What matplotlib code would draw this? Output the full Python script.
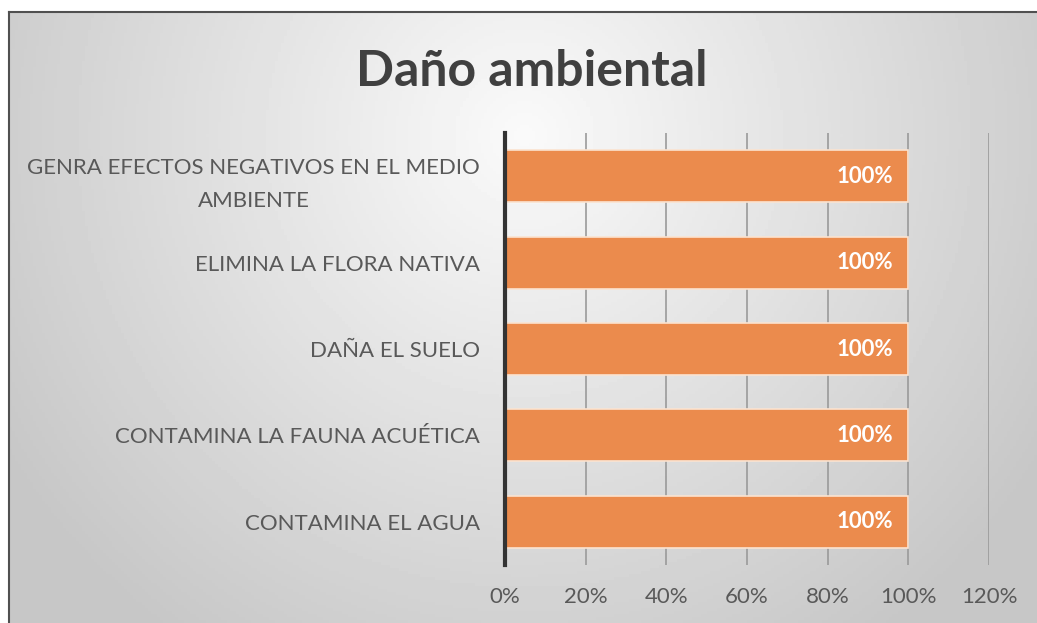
import numpy as np
import matplotlib.pyplot as plt

categories = ["CONTAMINA EL AGUA", "CONTAMINA LA FAUNA ACUÉTICA", "DAÑA EL SUELO",
              "ELIMINA LA FLORA NATIVA", "GENRA EFECTOS NEGATIVOS EN EL MEDIO\nAMBIENTE"]
values = [1.0, 1.0, 1.0, 1.0, 1.0]
xticks = [0, 0.2, 0.4, 0.6, 0.8, 1.0, 1.2]
xtick_labels = ["0%", "20%", "40%", "60%", "80%", "100%", "120%"]
title = "Daño ambiental"

plt.rcParams['font.family'] = ['Lato', 'DejaVu Sans']

W, H = 1037, 623
fig = plt.figure(figsize=(W/100, H/100), dpi=100)
fig.patch.set_facecolor('white')

# background gradient panel
bg = fig.add_axes([9/W, 0, 1-9/W, 1-12/H], zorder=0)
yy, xx = np.mgrid[0:200, 0:340]
cx, cy = 170, 40
d = np.sqrt(((xx-cx)/200.0)**2 + ((yy-cy)/200.0)**2)
img = 0.98 - 0.20*np.clip(d, 0, 1)
bg.imshow(img, cmap='gray', vmin=0, vmax=1, aspect='auto', extent=[0, 1, 0, 1], origin='upper')
bg.set_xlim(0, 1); bg.set_ylim(0, 1)
bg.set_xticks([]); bg.set_yticks([])
for s in ['right', 'bottom']:
    bg.spines[s].set_visible(False)
bg.spines['left'].set_color('#505050'); bg.spines['left'].set_linewidth(1.5)
bg.spines['top'].set_color('#505050'); bg.spines['top'].set_linewidth(1.5)

ax = fig.add_axes([505/W, 1-565/H, (989-505)/W, (565-133)/H], zorder=1)
ax.patch.set_alpha(0)
y = np.arange(len(categories))
bars = ax.barh(y, values, height=0.6, color='#EB8B4D', edgecolor='#FBE3D0', linewidth=1.2, zorder=3)
for b, v in zip(bars, values):
    ax.text(v - 0.037, b.get_y() + b.get_height()/2, f"{v*100:.0f}%", ha='right', va='center',
            color='white', fontsize=16, fontweight='bold', zorder=4)
ax.set_xlim(0, 1.2)
ax.set_ylim(-0.5, len(categories)-0.5)
ax.set_xticks(xticks)
ax.set_xticklabels(xtick_labels)
ax.set_yticks(y)
ax.set_yticklabels(categories, ha='right', linespacing=1.8)
for t in ax.get_yticklabels():
    t.set_multialignment('center')
ax.tick_params(axis='y', length=0, pad=18, labelsize=16, labelcolor='#595959')
ax.tick_params(axis='x', length=0, pad=16, labelsize=16, labelcolor='#595959')
ax.grid(axis='x', color='#9a9a9a', linewidth=1.2, zorder=0)
for s in ['top', 'right', 'bottom']:
    ax.spines[s].set_visible(False)
ax.spines['left'].set_color('#333333')
ax.spines['left'].set_linewidth(3)
ax.spines['left'].set_zorder(5)

fig.text(532/W, 1-72/H, title, ha='center', va='center', fontsize=36, fontweight='bold', color='#404040')

fig.savefig('out.png', dpi=100)
